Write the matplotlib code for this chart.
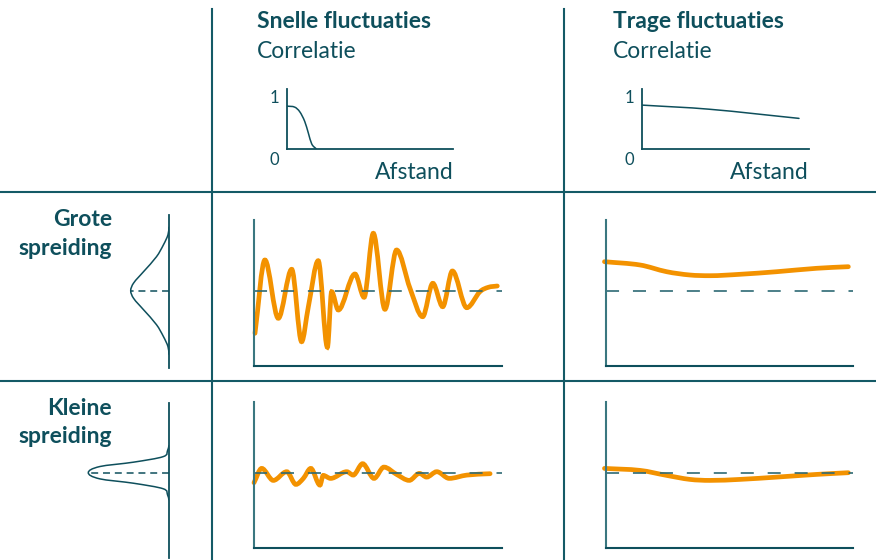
import matplotlib
matplotlib.use("Agg")
import matplotlib.pyplot as plt
from matplotlib.path import Path
from matplotlib.patches import PathPatch
from matplotlib.lines import Line2D

plt.rcParams['font.family'] = ['Lato', 'DejaVu Sans']
plt.rcParams['lines.scale_dashes'] = False

TEAL = '#0e4f5c'
LINE = '#145a66'
ORANGE = '#f39200'
FS = 16.5

# column / row titles
col_titles = ['Snelle fluctuaties', 'Trage fluctuaties']
row_titles = [['Grote', 'spreiding'], ['Kleine', 'spreiding']]

# correlation vs distance
corr_fast_x = [0.0, 0.045, 0.075, 0.105, 0.127, 0.147, 0.175]
corr_fast_y = [0.84, 0.82, 0.73, 0.54, 0.31, 0.10, 0.0]
corr_slow_x = [0.0, 0.40, 0.94]
corr_slow_y = [0.86, 0.78, 0.60]

# spread distributions (value -> density)
big_val = [6.4, 5.6, 4.6, 3.4, 1.9, 0.75, 0.0, -0.75, -1.9, -3.4, -4.6, -5.6, -6.4]
big_dens = [0.0, 0.1, 0.55, 1.25, 2.55, 3.55, 3.83, 3.55, 2.55, 1.25, 0.55, 0.1, 0.0]
small_val = [2.75, 2.2, 1.6, 1.05, 0.62, 0.0, -0.62, -1.05, -1.6, -2.2, -2.75]
small_dens = [0.0, 0.15, 0.6, 3.57, 6.9, 8.07, 6.9, 3.57, 0.6, 0.15, 0.0]

# fast fluctuations, big spread
fast_big_x = [0.4, 4.4, 9.8, 15.2, 19.2, 21.9, 25.9, 29.6, 31.3, 34.0, 40.7, 44.4,
              48.1, 52.8, 57.5, 62.9, 68.0, 72.1, 76.1, 80.0, 85.8, 91.1, 94.5, 98.1]
fast_big_y = [-4.26, 3.07, -2.76, 2.14, -5.10, -1.63, 3.00, -5.66, -0.10, -1.93, 1.67, -0.66,
              5.74, -1.86, 4.07, 0.24, -2.60, 0.74, -1.60, 1.97, -1.70, -0.10, 0.34, 0.47]
# fast fluctuations, small spread
fast_small_x = [0.0, 3.1, 7.8, 13.2, 16.9, 19.9, 22.9, 26.6, 27.9, 30.9, 37.4, 40.0,
                43.8, 48.4, 52.4, 57.5, 62.6, 66.7, 69.6, 73.7, 78.7, 85.8, 95.2]
fast_small_y = [-1.00, 0.43, -0.77, 0.10, -1.17, -0.57, 0.43, -1.24, -0.27, -0.57, 0.10, -0.24,
                0.90, -0.57, 0.56, -0.17, -0.77, -0.07, -0.44, 0.10, -0.57, -0.24, -0.10]
# slow fluctuations
slow_x = [-0.5, 13.9, 24.6, 34.0, 42.1, 54.2, 69.1, 85.2, 98.0]
slow_big_y = [2.90, 2.57, 1.90, 1.57, 1.50, 1.64, 1.90, 2.24, 2.40]
slow_small_y = [0.43, 0.23, -0.27, -0.67, -0.77, -0.67, -0.44, -0.17, 0.00]

W, H = 876, 560


def box(x0, y0, x1, y1):
    # pixel box (top-left origin) -> figure fraction rect
    return [x0 / W, 1 - y1 / H, (x1 - x0) / W, (y1 - y0) / H]


def smooth(ax, t, v, swap=False, **kw):
    # draw a smooth curve through the points with cubic bezier segments
    n = len(t)
    s = [(v[i + 1] - v[i]) / (t[i + 1] - t[i]) for i in range(n - 1)]
    m = [0.0] * n
    m[0], m[-1] = s[0], s[-1]
    for i in range(1, n - 1):
        if s[i - 1] * s[i] <= 0:
            m[i] = 0.0
        else:
            m[i] = (v[i + 1] - v[i - 1]) / (t[i + 1] - t[i - 1])
    verts = [(t[0], v[0])]
    codes = [Path.MOVETO]
    for i in range(n - 1):
        d = (t[i + 1] - t[i]) / 3
        verts += [(t[i] + d, v[i] + m[i] * d), (t[i + 1] - d, v[i + 1] - m[i + 1] * d),
                  (t[i + 1], v[i + 1])]
        codes += [Path.CURVE4] * 3
    if swap:
        verts = [(b, a) for a, b in verts]
    ax.add_patch(PathPatch(Path(verts, codes), fill=False, **kw))


fig = plt.figure(figsize=(8.76, 5.6), dpi=100)

# grid separators
for x in [212.3, 564]:
    fig.add_artist(Line2D([x / W, x / W], [1 - 9 / H, 0], color=LINE, lw=1.5))
for y in [192.3, 380.7]:
    fig.add_artist(Line2D([0, 1], [1 - y / H, 1 - y / H], color=LINE, lw=1.5))

# column headers
for x0, title in zip([257, 612.7], col_titles):
    fig.text(x0 / W, 1 - 21.7 / H, title, fontsize=FS, fontweight='bold',
             color=TEAL, va='center', ha='left')
    fig.text(x0 / W, 1 - 51.7 / H, 'Correlatie', fontsize=FS,
             color=TEAL, va='center', ha='left')

# correlation mini charts
for x0, x1, cx, cy in [(287.3, 453.3, corr_fast_x, corr_fast_y),
                       (642.3, 809, corr_slow_x, corr_slow_y)]:
    ax = fig.add_axes(box(x0, 89.3, x1, 149))
    ax.set_xlim(0, 1)
    ax.set_ylim(0, 1.17)
    smooth(ax, cx, cy, color=TEAL, lw=1.1, capstyle='round')
    for sp in ['top', 'right']:
        ax.spines[sp].set_visible(False)
    for sp in ['left', 'bottom']:
        ax.spines[sp].set_color(TEAL)
        ax.spines[sp].set_linewidth(1.3)
    ax.set_xticks([])
    ax.set_yticks([])
    ax.patch.set_alpha(0)
    ax.text(-0.08, 1.0, '1', fontsize=12, color=TEAL, ha='center', va='center')
    ax.text(-0.08, -0.21, '0', fontsize=12, color=TEAL, ha='center', va='center')
    ax.text(1.0, -0.47, 'Afstand', fontsize=FS, color=TEAL, ha='right', va='center',
            clip_on=False)

# rows
rows = [
    (215, 368, 220, 366, 290.7, big_val, big_dens, fast_big_x, fast_big_y, slow_big_y),
    (403.3, 558.3, 401.7, 548.3, 472.7, small_val, small_dens, fast_small_x, fast_small_y, slow_small_y),
]
for k, (dt, db, at, ab, mid, dv, dd, fx, fy, sy) in enumerate(rows):
    for j, word in enumerate(row_titles[k]):
        fig.text(112 / W, 1 - (dt + 5 + 28.5 * j) / H, word, fontsize=FS, fontweight='bold',
                 color=TEAL, ha='right', va='center')

    # distribution on its side
    ax = fig.add_axes(box(80, dt, 169, db))
    ax.set_xlim(8.9, 0)
    ax.set_ylim((mid - db) / 10, (mid - dt) / 10)
    smooth(ax, dv[::-1], dd[::-1], swap=True, color=TEAL, lw=1.1)
    ax.plot([0, max(dd)], [0, 0], color=TEAL, lw=1.1, dashes=(5, 3.5))
    for sp in ['top', 'left', 'bottom']:
        ax.spines[sp].set_visible(False)
    ax.spines['right'].set_color(TEAL)
    ax.spines['right'].set_linewidth(1.3)
    ax.set_xticks([])
    ax.set_yticks([])
    ax.patch.set_alpha(0)

    # fluctuation panels
    for x0, x1, px, py in [(254, 502, fx, fy), (605.7, 853.3, slow_x, sy)]:
        ax = fig.add_axes(box(x0, at, x1, ab))
        ax.set_xlim(0, 100)
        ax.set_ylim((mid - ab) / 10, (mid - at) / 10)
        ax.axhline(0, color='#2d6a74', lw=1.2, dashes=(9.4, 10))
        smooth(ax, px, py, color=ORANGE, lw=3.4, capstyle='round', clip_on=False)
        for sp in ['top', 'right']:
            ax.spines[sp].set_visible(False)
        ax.spines['left'].set_color('#3a7780')
        ax.spines['bottom'].set_color(TEAL)
        for sp in ['left', 'bottom']:
            ax.spines[sp].set_linewidth(1.5)
        ax.set_xticks([])
        ax.set_yticks([])
        ax.patch.set_alpha(0)

fig.savefig('out.png', dpi=100)
